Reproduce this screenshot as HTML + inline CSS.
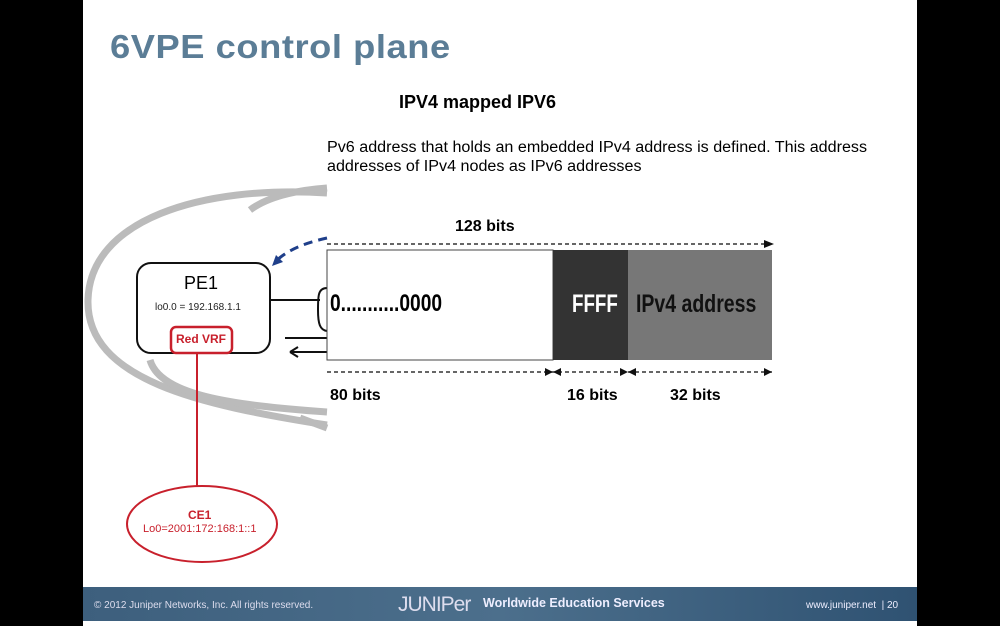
<!DOCTYPE html>
<html><head><style>
body{margin:0;width:1000px;height:626px;background:#000;position:relative;overflow:hidden;font-family:"Liberation Sans",sans-serif}
.slide{position:absolute;left:83px;top:0;width:834px;height:626px;background:#fff}
.t{position:absolute;white-space:nowrap}
</style></head><body>
<div class="slide"></div>
<div class="t" style="left:110px;top:28px;font-size:33px;font-weight:bold;color:#5b7d96;transform:scaleX(1.1);transform-origin:left;letter-spacing:0.5px">6VPE control plane</div>
<svg style="position:absolute;left:0;top:0" width="1000" height="626">
<g fill="none" stroke="#bbb" stroke-width="7">
<path d="M327 193 C200 185 90 220 88 300 C86 380 200 405 327 425"/>
<path d="M250 210 C270 195 300 190 327 188"/>
<path d="M150 360 C160 395 230 405 327 412"/>
<path d="M300 418 L327 428"/>
</g>
<rect x="137" y="263" width="133" height="90" rx="14" fill="#fff" stroke="#111" stroke-width="2"/>
<rect x="171" y="327" width="61" height="26" rx="5" fill="#fff" stroke="#c8202c" stroke-width="2.5"/>
<line x1="197" y1="353" x2="197" y2="490" stroke="#c8202c" stroke-width="2"/>
<ellipse cx="202" cy="524" rx="75" ry="38" fill="#fff" stroke="#c8202c" stroke-width="2"/>
<line x1="270" y1="300" x2="320" y2="300" stroke="#111" stroke-width="2"/>
<path d="M327 288 C318 288 318 296 318 310 C318 324 320 330 327 331" fill="none" stroke="#111" stroke-width="2"/>
<line x1="285" y1="338" x2="327" y2="338" stroke="#111" stroke-width="2"/>
<line x1="290" y1="352" x2="327" y2="352" stroke="#111" stroke-width="2"/>
<path d="M290 352 L298 347 M290 352 L298 357" stroke="#111" stroke-width="2"/>
<path d="M327 238 C300 244 285 252 275 262" fill="none" stroke="#1f3f8a" stroke-width="3" stroke-dasharray="9,6"/>
<path d="M272 266 L276 255 L283 262 Z" fill="#1f3f8a"/>
<line x1="327" y1="244" x2="765" y2="244" stroke="#333" stroke-width="1.5" stroke-dasharray="4,3"/>
<path d="M774 244 L764 240 L764 248 Z" fill="#111"/>
<rect x="327" y="250" width="226" height="110" fill="#fff" stroke="#444"/>
<rect x="553" y="250" width="75" height="110" fill="#333"/>
<rect x="628" y="250" width="144" height="110" fill="#777"/>
<line x1="327" y1="372" x2="772" y2="372" stroke="#333" stroke-width="1.5" stroke-dasharray="4,3"/>
<path d="M553 372 l-8 -4 v8z M553 372 l8 -4 v8z M628 372 l-8 -4 v8z M628 372 l8 -4 v8z M772 372 l-8 -4 v8z" fill="#111"/>
</svg>
<div class="t" style="left:399px;top:92px;font-size:18px;font-weight:bold">IPV4 mapped IPV6</div>
<div class="t" style="left:327px;top:138px;font-size:15.5px;line-height:19px;transform:scaleX(1.04);transform-origin:left">Pv6 address that holds an embedded IPv4 address is defined. This address<br>addresses of IPv4 nodes as IPv6 addresses</div>
<div class="t" style="left:455px;top:218px;font-size:16px;font-weight:bold">128 bits</div>
<div class="t" style="left:330px;top:290px;font-size:24px;font-weight:bold;transform:scaleX(0.8);transform-origin:left">0...........0000</div>
<div class="t" style="left:572px;top:290px;font-size:25px;font-weight:bold;color:#fff;transform:scaleX(0.75);transform-origin:left">FFFF</div>
<div class="t" style="left:636px;top:290px;font-size:25px;font-weight:bold;color:#111;transform:scaleX(0.78);transform-origin:left">IPv4 address</div>
<div class="t" style="left:330px;top:387px;font-size:16px;font-weight:bold">80 bits</div>
<div class="t" style="left:567px;top:387px;font-size:16px;font-weight:bold">16 bits</div>
<div class="t" style="left:670px;top:387px;font-size:16px;font-weight:bold">32 bits</div>
<div class="t" style="left:184px;top:273px;font-size:18px">PE1</div>
<div class="t" style="left:155px;top:302px;font-size:10px;color:#222">lo0.0 = 192.168.1.1</div>
<div class="t" style="left:176px;top:332px;font-size:12px;font-weight:bold;color:#c8202c">Red VRF</div>
<div class="t" style="left:188px;top:508px;font-size:12px;font-weight:bold;color:#c8202c">CE1</div>
<div class="t" style="left:143px;top:523px;font-size:11px;color:#c8202c">Lo0=2001:172:168:1::1</div>
<div style="position:absolute;left:83px;top:587px;width:834px;height:34px;background:linear-gradient(90deg,#3d5f7d,#4c6f8c 50%,#2f5272)"></div>
<div class="t" style="left:94px;top:600px;font-size:10px;color:#dde">© 2012 Juniper Networks, Inc. All rights reserved.</div>
<div class="t" style="left:398px;top:593px;font-size:21px;color:#dde;letter-spacing:-1px">JUNIPer</div>
<div class="t" style="left:483px;top:596px;font-size:12.5px;font-weight:bold;color:#eef">Worldwide Education Services</div>
<div class="t" style="left:806px;top:600px;font-size:10px;color:#eef">www.juniper.net &nbsp;| 20</div>
</body></html>
